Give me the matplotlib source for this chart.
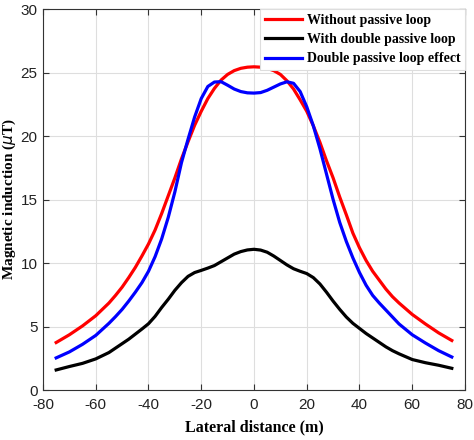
import matplotlib
matplotlib.use('Agg')
import matplotlib.pyplot as plt

plt.rcParams['axes.unicode_minus'] = False

# Lateral distance (m) and magnetic induction (uT)
distance = [-75, -70, -65, -60, -55, -52.5, -50, -47.5, -45, -42.5, -40, -37.5, -35, -32.5, -30,
            -27.5, -25, -22.5, -20, -17.5, -15, -12.5, -10, -7.5, -5, -2.5, 0,
            2.5, 5, 7.5, 10, 12.5, 15, 17.5, 20, 22.5, 25, 27.5, 30,
            32.5, 35, 37.5, 40, 42.5, 45, 47.5, 50, 52.5, 55, 60, 65, 70, 75]

without_loop = [3.74, 4.35, 5.05, 5.85, 6.85, 7.45, 8.1, 8.85, 9.65, 10.55, 11.5, 12.6, 13.9, 15.3, 16.7,
                18.2, 19.55, 20.85, 21.95, 22.95, 23.75, 24.4, 24.85, 25.15, 25.33, 25.42, 25.45,
                25.42, 25.33, 25.15, 24.85, 24.35, 23.7, 22.85, 21.95, 20.8, 19.5, 18.05, 16.7,
                15.2, 13.8, 12.35, 11.2, 10.2, 9.35, 8.65, 7.95, 7.35, 6.85, 5.95, 5.2, 4.5, 3.9]

with_double_loop = [1.58, 1.85, 2.1, 2.45, 2.95, 3.3, 3.65, 4.0, 4.4, 4.8, 5.22, 5.8, 6.5, 7.15, 7.85,
                    8.45, 8.95, 9.25, 9.42, 9.6, 9.8, 10.1, 10.4, 10.7, 10.9, 11.03, 11.08,
                    11.02, 10.85, 10.55, 10.2, 9.85, 9.55, 9.35, 9.17, 8.85, 8.35, 7.7, 7.0,
                    6.35, 5.75, 5.25, 4.85, 4.45, 4.1, 3.75, 3.4, 3.1, 2.85, 2.4, 2.15, 1.95, 1.71]

loop_effect = [2.53, 3.0, 3.6, 4.3, 5.25, 5.78, 6.35, 7.0, 7.7, 8.45, 9.35, 10.5, 11.9, 13.6, 15.6,
               17.9, 19.75, 21.5, 22.95, 23.9, 24.25, 24.28, 24.0, 23.7, 23.5, 23.4, 23.38,
               23.42, 23.6, 23.85, 24.1, 24.27, 24.15, 23.5, 22.3, 20.8, 19.0, 17.0, 15.0,
               13.2, 11.7, 10.4, 9.25, 8.25, 7.45, 6.85, 6.3, 5.75, 5.2, 4.35, 3.7, 3.1, 2.6]

xticks = [-80, -60, -40, -20, 0, 20, 40, 60, 80]
yticks = [0, 5, 10, 15, 20, 25, 30]

tick_font = ['Liberation Sans', 'DejaVu Sans']
label_font = ['Liberation Serif', 'DejaVu Serif']

fig = plt.figure(figsize=(4.74, 4.4), dpi=100)
ax = fig.add_axes([0.0907, 0.1136, 0.8903, 0.8659])

ax.plot(distance, without_loop, color='#ff0000', lw=2.3, label='Without passive loop')
ax.plot(distance, with_double_loop, color='#000000', lw=2.3, label='With double passive loop')
ax.plot(distance, loop_effect, color='#0000ff', lw=2.3, label='Double passive loop effect')

ax.set_xlim(-80, 80)
ax.set_ylim(0, 30)
ax.set_xticks(xticks)
ax.set_yticks(yticks)
ax.grid(True, color='#dedede', lw=0.8)
ax.set_axisbelow(True)
ax.tick_params(direction='in', top=True, right=True, length=4, width=0.8,
               color='#333333', labelsize=11)
ax.tick_params(axis='x', pad=6)
ax.tick_params(axis='y', pad=4)
for lab in ax.get_xticklabels() + ax.get_yticklabels():
    lab.set_family(tick_font)
    lab.set_color('#222222')
for s in ax.spines.values():
    s.set_color('#333333')
    s.set_linewidth(0.8)

ax.set_xlabel('Lateral distance (m)', family=label_font, fontweight='bold', fontsize=11.5, labelpad=5)
ax.set_ylabel(r'Magnetic induction ($\mu$T)', family=label_font, fontweight='bold', fontsize=11)
ax.yaxis.set_label_coords(-0.06, 0.5)

leg = ax.legend(loc='upper right', prop={'family': label_font, 'weight': 'bold', 'size': 10},
                handlelength=2.7, handletextpad=0.3, borderpad=0.35, labelspacing=0.45,
                borderaxespad=0.0, fancybox=False, framealpha=1.0, edgecolor='#dddddd')
leg.get_frame().set_linewidth(0.8)

plt.savefig('out.png', dpi=100)
